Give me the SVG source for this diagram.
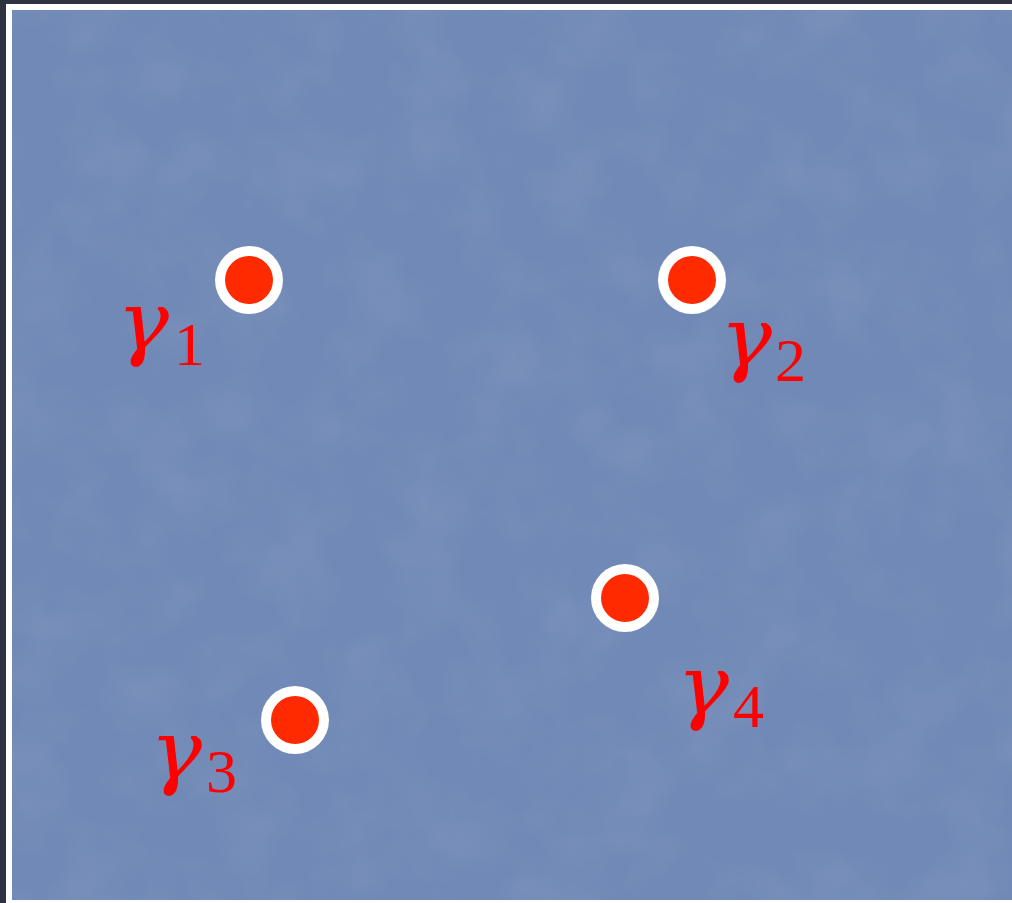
<svg xmlns="http://www.w3.org/2000/svg" width="1012" height="903" viewBox="0 0 1012 903">
  <defs>
    <filter id="tex" x="0" y="0" width="100%" height="100%">
      <feTurbulence type="fractalNoise" baseFrequency="0.015" numOctaves="3" seed="11" result="n"/>
      <feColorMatrix in="n" type="matrix" values="0 0 0 0 0.55  0 0 0 0 0.62  0 0 0 0 0.78  0 0 0 0.9 -0.35" result="c"/>
      <feComposite in="c" in2="SourceGraphic" operator="in"/>
    </filter>
    <style>
      .ring { fill: #ffffff; }
      .dot { fill: #ff2a00; }
      .g { font-family: "DejaVu Serif", "Liberation Serif", serif; font-style: italic; font-size: 82px; fill: #ff0000; }
      .s { font-family: "Liberation Serif", "DejaVu Serif", serif; font-size: 62px; fill: #ff0000; }
    </style>
  </defs>
  <rect x="0" y="0" width="1012" height="903" fill="#2f3241"/>
  <rect x="6" y="4" width="1006" height="899" fill="#ffffff"/>
  <rect x="12" y="10" width="1000" height="890" fill="#7189b6"/>
  <rect x="12" y="10" width="1000" height="890" fill="#7189b6" filter="url(#tex)" opacity="0.22"/>
  <g id="connectors"/>
  <g id="gamma1">
    <circle class="ring" cx="249" cy="280" r="34"/>
    <circle class="dot" cx="249" cy="280" r="24"/>
    <text class="g" x="117" y="350" textLength="52" lengthAdjust="spacingAndGlyphs">γ</text>
    <text class="s" x="174" y="365">1</text>
  </g>
  <g id="gamma2">
    <circle class="ring" cx="692" cy="280" r="34"/>
    <circle class="dot" cx="692" cy="280" r="24"/>
    <text class="g" x="720" y="366" textLength="52" lengthAdjust="spacingAndGlyphs">γ</text>
    <text class="s" x="775" y="381">2</text>
  </g>
  <g id="gamma3">
    <circle class="ring" cx="295" cy="720" r="34"/>
    <circle class="dot" cx="295" cy="720" r="24"/>
    <text class="g" x="150" y="779" textLength="52" lengthAdjust="spacingAndGlyphs">γ</text>
    <text class="s" x="206" y="792">3</text>
  </g>
  <g id="gamma4">
    <circle class="ring" cx="625" cy="598" r="34"/>
    <circle class="dot" cx="625" cy="598" r="24"/>
    <text class="g" x="677" y="714" textLength="52" lengthAdjust="spacingAndGlyphs">γ</text>
    <text class="s" x="733" y="727">4</text>
  </g>
</svg>
